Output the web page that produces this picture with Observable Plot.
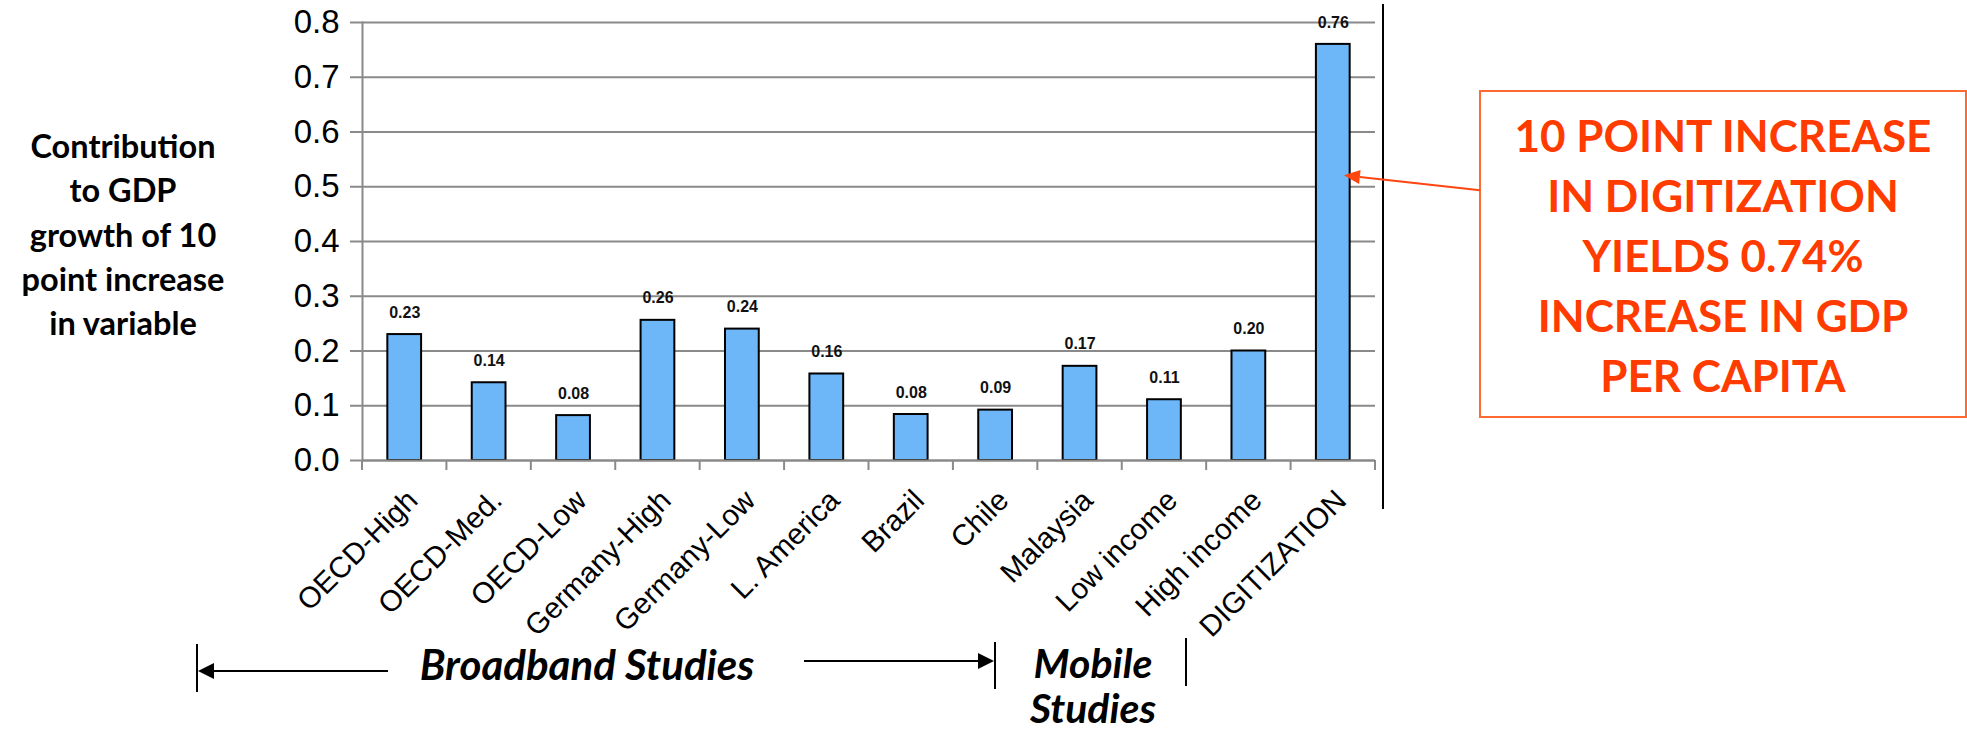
<!DOCTYPE html>
<html><head><meta charset="utf-8">
<script src="https://cdn.jsdelivr.net/npm/d3@7"></script>
<script src="https://cdn.jsdelivr.net/npm/@observablehq/plot@0.6"></script>
<style>
html,body{margin:0;padding:0;background:#fff;}
#chart svg{display:block;}
</style></head><body><div id="chart"></div>
<script>
// ---- data ----
const categories = ["OECD-High","OECD-Med.","OECD-Low","Germany-High","Germany-Low","L. America","Brazil","Chile","Malaysia","Low income","High income","DIGITIZATION"];
const values = [0.23, 0.142, 0.082, 0.256, 0.24, 0.158, 0.084, 0.092, 0.172, 0.111, 0.20, 0.76];
const yTicks = [0, 0.1, 0.2, 0.3, 0.4, 0.5, 0.6, 0.7, 0.8];
const yTitleLines = ["Contribution", "to GDP", "growth of 10", "point increase", "in variable"];
const calloutLines = ["10 POINT INCREASE", "IN DIGITIZATION", "YIELDS 0.74%", "INCREASE IN GDP", "PER CAPITA"];
const calloutTarget = "DIGITIZATION";
const calloutValue = 0.52;
const groupBroadband = "Broadband Studies";
const groupMobile = ["Mobile", "Studies"];

const data = categories.map((c, i) => ({category: c, value: values[i]}));

const W = 1967, H = 733;
const ARIAL = "'Liberation Sans', Arial, sans-serif";
const CALIBRI = "Lato, 'Open Sans', sans-serif";
const GRID = "#8a8a8a";

const chart = Plot.plot({
  width: W, height: H,
  marginLeft: 362, marginRight: 592, marginTop: 22, marginBottom: 273,
  style: {fontFamily: ARIAL, background: "white", overflow: "visible"},
  x: {domain: categories, paddingInner: 0.6, paddingOuter: 0.3, round: false, axis: null},
  y: {domain: [0, 0.8], axis: null},
  marks: [
    Plot.gridY(yTicks, {stroke: GRID, strokeOpacity: 1, strokeWidth: 2}),
    Plot.axisY(yTicks, {label: null, tickSize: 12, tickPadding: 11, tickFormat: d3.format(".1f"), fontSize: 33, stroke: GRID, strokeWidth: 2, fill: "black"}),
    Plot.frame({anchor: "left", stroke: GRID, strokeWidth: 2}),
    Plot.barY(data, {x: "category", y: "value", fill: "#6db6f8", stroke: "#000", strokeWidth: 2}),
    Plot.ruleY([0], {stroke: GRID, strokeWidth: 2}),
    Plot.text(data, {x: "category", y: "value", text: d => d.value.toFixed(2), dy: -22, fontWeight: "bold", fontSize: 16, fill: "#111"}),
    Plot.text(categories, {x: d => d, y: () => 0, text: d => d, rotate: -45, textAnchor: "end", dx: 8, dy: 35, fontSize: 29.5, fill: "#000"})
  ]
});
document.getElementById("chart").appendChild(chart);

// ---- annotations drawn with the chart's own scales ----
const svg = d3.select(chart);
const sx = chart.scale("x"), sy = chart.scale("y");
const n = categories.length;
const step = sx.step ?? (sx.range[1] - sx.range[0]) / (n - sx.paddingInner + 2 * sx.paddingOuter);
const bw = sx.bandwidth ?? step * (1 - sx.paddingInner);
const y0 = sy.apply(0);
const bounds = categories.map(c => sx.apply(c) - (step - bw) / 2);
bounds.push(bounds[n - 1] + step);
const g = svg.append("g");
g.selectAll("line.tick").data(bounds).join("line")
  .attr("x1", d => d).attr("x2", d => d).attr("y1", y0).attr("y2", y0 + 10)
  .attr("stroke", GRID).attr("stroke-width", 2);

// right-side separator
const xRight = bounds[n] + 8;
g.append("line").attr("x1", xRight).attr("x2", xRight).attr("y1", 4).attr("y2", 509)
  .attr("stroke", "#000").attr("stroke-width", 2);

// y title
g.append("text").attr("text-anchor", "middle").attr("font-family", CALIBRI)
  .attr("font-weight", "bold").attr("font-size", 32.5).attr("fill", "#000")
  .selectAll("tspan").data(yTitleLines).join("tspan")
  .attr("x", 123).attr("y", (d, i) => 158 + i * 44.3).text(d => d);

// callout
const orange = "#ff3b00";
g.append("rect").attr("x", 1480).attr("y", 91).attr("width", 486).attr("height", 326)
  .attr("fill", "none").attr("stroke", "#ff6a33").attr("stroke-width", 2);
g.append("text").attr("text-anchor", "middle").attr("font-family", CALIBRI)
  .attr("font-weight", "bold").attr("font-size", 44).attr("fill", orange)
  .selectAll("tspan").data(calloutLines).join("tspan")
  .attr("x", 1723).attr("y", (d, i) => 152 + i * 60).text(d => d);
const tipX = sx.apply(calloutTarget) + bw * 0.83, tipY = sy.apply(calloutValue);
const fromX = 1480, fromY = tipY + 15;
{
  const dx = tipX - fromX, dy = tipY - fromY, L = Math.hypot(dx, dy);
  const ux = dx / L, uy = dy / L, hl = 16, hw = 7;
  const bx = tipX - ux * hl, by = tipY - uy * hl;
  g.append("line").attr("x1", fromX).attr("y1", fromY).attr("x2", bx).attr("y2", by)
    .attr("stroke", "#ff4510").attr("stroke-width", 2);
  g.append("path").attr("d", `M${tipX},${tipY}L${bx - uy * hw},${by + ux * hw}L${bx + uy * hw},${by - ux * hw}Z`)
    .attr("fill", "#ff4510");
}

// group labels
g.append("text").attr("x", 587).attr("y", 680).attr("text-anchor", "middle")
  .attr("font-family", CALIBRI).attr("font-weight", "bold").attr("font-style", "italic")
  .attr("font-size", 42).attr("fill", "#000").text(groupBroadband);
g.append("text").attr("text-anchor", "middle")
  .attr("font-family", CALIBRI).attr("font-weight", "bold").attr("font-style", "italic")
  .attr("font-size", 41).attr("fill", "#000")
  .selectAll("tspan").data(groupMobile).join("tspan")
  .attr("x", 1093).attr("y", (d, i) => 678 + i * 45).text(d => d);

// brackets and arrows
function line(x1, y1, x2, y2) {
  g.append("line").attr("x1", x1).attr("y1", y1).attr("x2", x2).attr("y2", y2)
    .attr("stroke", "#000").attr("stroke-width", 2);
}
line(197, 644, 197, 692);
line(210, 671, 388, 671);
g.append("path").attr("d", "M198,671L214,663L214,679Z").attr("fill", "#000");
line(804, 661, 980, 661);
g.append("path").attr("d", "M994,661L978,653L978,669Z").attr("fill", "#000");
line(995, 642, 995, 689);
line(1186, 638, 1186, 686);
</script>
</body></html>
